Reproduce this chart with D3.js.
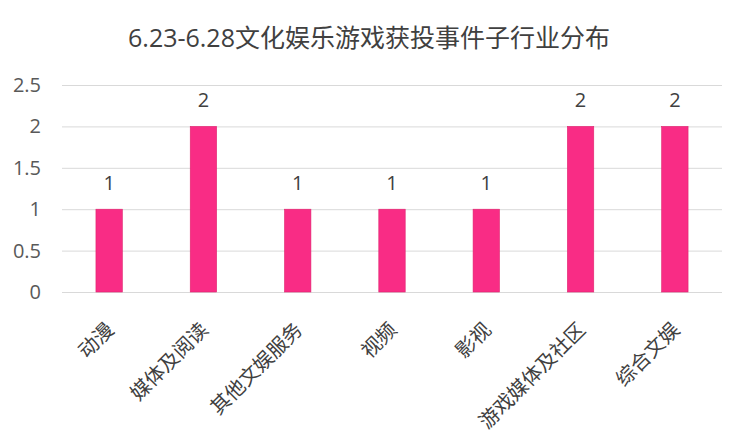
<!DOCTYPE html>
<html><head><meta charset="utf-8">
<script src="https://cdn.jsdelivr.net/npm/d3@7/dist/d3.min.js"></script>
<style>body{margin:0;background:#fff;} svg{display:block;}</style>
</head><body>
<svg id="c" width="749" height="448"></svg>
<script>
const categories = ["动漫","媒体及阅读","其他文娱服务","视频","影视","游戏媒体及社区","综合文娱"];
const values = [1,2,1,1,1,2,2];
const yTicks = [0,0.5,1,1.5,2,2.5];
const title = "6.23-6.28文化娱乐游戏获投事件子行业分布";

const W=749,H=448;
const m={left:62,right:27,top:85,bottom:156};
const svg=d3.select("#c");
const font="'Open Sans','Noto Sans CJK SC',sans-serif";
const x=d3.scaleBand().domain(categories).range([m.left,W-m.right]).paddingInner(0.72).paddingOuter(0.36);
const y=d3.scaleLinear().domain([0,2.5]).range([H-m.bottom,m.top]);

svg.append("text").attr("x",369).attr("y",47).attr("text-anchor","middle")
  .attr("font-family",font).attr("font-size",25).attr("fill","#404040").text(title);

const ya=svg.append("g").attr("transform",`translate(${m.left},0)`)
  .call(d3.axisLeft(y).tickValues(yTicks).tickSize(-(W-m.left-m.right)).tickFormat(d=>String(d)));
ya.select(".domain").remove();
ya.selectAll(".tick line").attr("stroke","#d9d9d9");
ya.selectAll(".tick text").attr("x",-21).attr("font-family",font).attr("font-size",20).attr("fill","#595959");

svg.selectAll("rect.bar").data(categories).join("rect").attr("class","bar")
  .attr("x",d=>x(d)).attr("width",x.bandwidth())
  .attr("y",(d,i)=>y(values[i])).attr("height",(d,i)=>y(0)-y(values[i]))
  .attr("fill","#F92C85").attr("stroke","#e0246f").attr("stroke-width",0.6);

svg.selectAll("text.val").data(categories).join("text").attr("class","val")
  .attr("x",d=>x(d)+x.bandwidth()/2).attr("y",(d,i)=>y(values[i])-19)
  .attr("text-anchor","middle").attr("font-family",font).attr("font-size",20).attr("fill","#404040")
  .text((d,i)=>values[i]);

svg.selectAll("text.xl").data(categories).join("text").attr("class","xl")
  .attr("transform",d=>`translate(${x(d)+x.bandwidth()/2+6},${y(0)+39}) rotate(-45)`)
  .attr("text-anchor","end")
  .attr("font-family",font).attr("font-size",20).attr("fill","#404040").text(d=>d);
</script>
</body></html>
